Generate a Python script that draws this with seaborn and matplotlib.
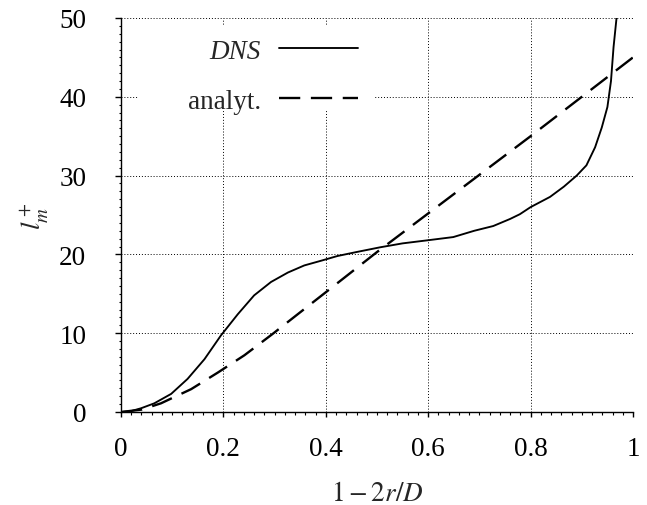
import matplotlib
matplotlib.use("Agg")
import matplotlib.pyplot as plt
import seaborn as sns
import pandas as pd
from matplotlib.ticker import MultipleLocator
from matplotlib.patches import Rectangle

# DNS curve
dns_x = [0.0, 0.02, 0.039, 0.065, 0.098, 0.13, 0.163, 0.195, 0.228, 0.26,
         0.293, 0.326, 0.358, 0.391, 0.423, 0.46, 0.506, 0.55, 0.6, 0.649,
         0.69, 0.727, 0.76, 0.779, 0.8, 0.838, 0.865, 0.89, 0.909, 0.926,
         0.939, 0.95, 0.957, 0.962, 0.968]
dns_y = [0.0, 0.12, 0.47, 1.1, 2.3, 4.2, 6.7, 9.7, 12.4, 14.8,
         16.5, 17.7, 18.6, 19.2, 19.8, 20.3, 20.9, 21.4, 21.8, 22.2,
         23.0, 23.6, 24.5, 25.1, 26.0, 27.3, 28.6, 30.0, 31.3, 33.6,
         36.1, 38.7, 42.0, 46.3, 50.1]

# analytical curve
ana_x = [0.0, 0.04, 0.078, 0.137, 0.189, 0.241, 0.296, 0.345, 0.404, 0.5,
         0.6, 0.7, 0.8, 0.9, 1.0]
ana_y = [0.0, 0.3, 1.1, 2.9, 5.0, 7.2, 9.9, 12.4, 15.4, 20.3,
         25.2, 30.1, 35.0, 40.0, 45.0]

x_ticks = [0, 0.2, 0.4, 0.6, 0.8, 1]
x_tick_labels = ["0", "0.2", "0.4", "0.6", "0.8", "1"]
y_ticks = [0, 10, 20, 30, 40, 50]

sns.set_style("ticks")
plt.rcParams["font.family"] = ["Liberation Serif", "DejaVu Serif"]
plt.rcParams["mathtext.fontset"] = "stix"

FS = 19.5
fig = plt.figure(figsize=(6.47, 5.06), dpi=100)
ax = fig.add_axes([121/647, 93/506, 512/647, 394/506])

df_dns = pd.DataFrame({"x": dns_x, "y": dns_y})
df_ana = pd.DataFrame({"x": ana_x, "y": ana_y})

sns.lineplot(data=df_dns, x="x", y="y", ax=ax, color="black", lw=1.35,
             sort=False, estimator=None, label="DNS", zorder=3)
sns.lineplot(data=df_ana, x="x", y="y", ax=ax, color="black", lw=1.7,
             sort=False, estimator=None, label="analyt.", zorder=3)
ax.lines[1].set_dashes((9, 4.5))

ax.set_xlim(0, 1)
ax.set_ylim(0, 50)
ax.set_xticks(x_ticks)
ax.set_xticklabels(x_tick_labels)
ax.set_yticks(y_ticks)
ax.xaxis.set_minor_locator(MultipleLocator(0.02))
ax.yaxis.set_minor_locator(MultipleLocator(1))

ax.grid(True, which="major", color="black", linestyle=(0, (1, 2)), lw=0.7)
ax.set_axisbelow(True)

# white backing behind the legend (hides the grid there)
ax.add_patch(Rectangle((0.033, 0.764), 0.463, 0.216, transform=ax.transAxes,
                       facecolor="white", edgecolor="none", zorder=1.5))

for s in ["top", "right"]:
    ax.spines[s].set_visible(False)
for s in ["left", "bottom"]:
    ax.spines[s].set_color("black")
    ax.spines[s].set_linewidth(1.0)

ax.tick_params(axis="x", which="major", direction="out", length=3.5, width=1,
               pad=14, labelsize=FS, colors="black")
ax.tick_params(axis="y", which="major", direction="out", length=4.5, width=1,
               pad=20.5, labelsize=FS, colors="black")
ax.tick_params(which="minor", direction="out", length=1.8, width=0.8, colors="black")

ax.set_xlabel(r"$1-2r/D$", fontsize=FS, labelpad=14.5)
ax.set_ylabel(r"$l_m^+$", fontsize=FS, labelpad=6)

leg = ax.legend(loc="upper right", bbox_to_anchor=(0.481, 0.972), borderaxespad=0,
                markerfirst=False, frameon=False, fontsize=FS, handlelength=2.9,
                handletextpad=0.67, labelspacing=0.93, borderpad=0.35)
leg.get_texts()[0].set_fontstyle("italic")

fig.savefig("out.png", dpi=100)
